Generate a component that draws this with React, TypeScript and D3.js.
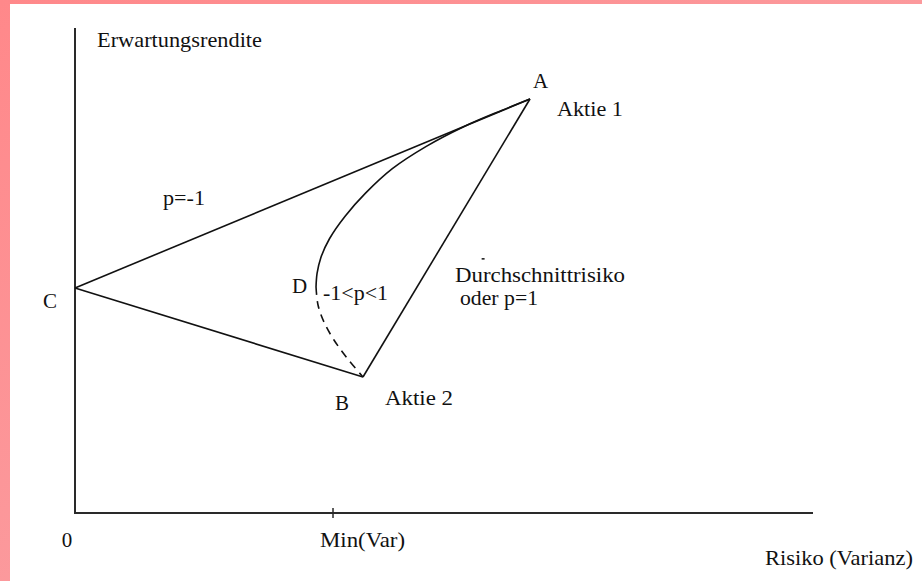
import React from "react";
import * as d3 from "d3";

const W = 922;
const H = 581;

// Abstract data units: risk (x) and expected return (y), both 0..100
const pointNames = ["A", "B", "C"];
const pointRisk = [61.65, 39.02, 0];
const pointReturn = [85.36, 28.04, 46.39];

// Efficient frontier curve (-1<p<1), solid part from A down to D
const curveSolidRisk = [61.65, 57.8, 52.6, 47.6, 43.0, 39.4, 36.6, 34.5, 33.3, 32.8, 32.66];
const curveSolidReturn = [85.36, 83.0, 79.6, 75.6, 71.0, 66.0, 61.2, 56.6, 52.6, 49.4, 46.6];
// dashed part from D down to B
const curveDashRisk = [32.66, 32.93, 33.74, 35.09, 36.86, 39.02];
const curveDashReturn = [46.6, 42.89, 39.38, 35.67, 31.96, 28.04];

const minVarRisk = 34.96;
const xTickLabels = ["0", "Min(Var)"];

const x = d3.scaleLinear().domain([0, 100]).range([75, 813]);
const y = d3.scaleLinear().domain([0, 100]).range([513, 28]);

const FONT = "Liberation Serif, DejaVu Serif, Times New Roman, serif";

export default function App() {
  const P = (name: string): [number, number] => {
    const i = pointNames.indexOf(name);
    return [x(pointRisk[i]), y(pointReturn[i])];
  };
  const A = P("A");
  const B = P("B");
  const C = P("C");

  const line = d3
    .line<[number, number]>()
    .x((d) => x(d[0]))
    .y((d) => y(d[1]))
    .curve(d3.curveCatmullRom.alpha(0.5));

  const solid = line(curveSolidRisk.map((r, i) => [r, curveSolidReturn[i]]));
  const dashed = line(curveDashRisk.map((r, i) => [r, curveDashReturn[i]]));

  const txt = {
    fontFamily: FONT,
    fontSize: 21,
    fill: "#111",
  } as const;

  return (
    <svg
      width={W}
      height={H}
      style={{ position: "absolute", left: 0, top: 0, display: "block" }}
    >
      <defs>
        <linearGradient id="bg" x1="0" y1="0" x2="1" y2="1">
          <stop offset="0" stopColor="#ff888a" />
          <stop offset="1" stopColor="#f8aaae" />
        </linearGradient>
      </defs>
      <rect x={0} y={0} width={W} height={H} fill="url(#bg)" />
      <rect x={10} y={4} width={W - 10} height={H - 4} fill="#ffffff" />

      {/* axes */}
      <line x1={x(0)} y1={y(100)} x2={x(0)} y2={y(0) + 1} stroke="#2a2a2a" strokeWidth={2} />
      <line x1={x(0)} y1={y(0)} x2={x(100)} y2={y(0)} stroke="#2a2a2a" strokeWidth={2} />
      <line x1={x(minVarRisk)} y1={y(0) - 5} x2={x(minVarRisk)} y2={y(0) + 5} stroke="#2a2a2a" strokeWidth={1.5} />

      {/* p=-1 lines */}
      <line x1={C[0]} y1={C[1]} x2={A[0]} y2={A[1]} stroke="#111" strokeWidth={1.6} />
      <line x1={C[0]} y1={C[1]} x2={B[0]} y2={B[1]} stroke="#111" strokeWidth={1.6} />
      {/* p=1 line */}
      <line x1={A[0]} y1={A[1]} x2={B[0]} y2={B[1]} stroke="#111" strokeWidth={1.6} />

      {/* -1<p<1 curve */}
      <path d={solid || ""} fill="none" stroke="#111" strokeWidth={1.6} />
      <path d={dashed || ""} fill="none" stroke="#111" strokeWidth={1.6} strokeDasharray="8 6" />

      {/* small mark */}
      <line x1={x(55.1)} y1={y(52.4)} x2={x(55.5)} y2={y(52.4)} stroke="#111" strokeWidth={1.5} />

      {/* labels */}
      <text {...txt} x={97} y={47} textLength={165} lengthAdjust="spacingAndGlyphs">Erwartungsrendite</text>
      <text {...txt} x={A[0] + 3} y={A[1] - 11}>A</text>
      <text {...txt} x={A[0] + 27} y={A[1] + 17} textLength={66} lengthAdjust="spacingAndGlyphs">Aktie 1</text>
      <text {...txt} x={C[0] - 32} y={C[1] + 20}>C</text>
      <text {...txt} x={B[0] - 28} y={B[1] + 33}>B</text>
      <text {...txt} x={B[0] + 22} y={B[1] + 28} textLength={68} lengthAdjust="spacingAndGlyphs">Aktie 2</text>
      <text {...txt} x={163} y={205} textLength={42} lengthAdjust="spacingAndGlyphs">p=-1</text>
      <text {...txt} x={292} y={293}>D</text>
      <text {...txt} x={323} y={300} textLength={65} lengthAdjust="spacingAndGlyphs">-1&lt;p&lt;1</text>
      <text {...txt} x={455} y={282} textLength={170} lengthAdjust="spacingAndGlyphs">Durchschnittrisiko</text>
      <text {...txt} x={460} y={305} textLength={78} lengthAdjust="spacingAndGlyphs">oder p=1</text>

      <text {...txt} x={x(0) - 8} y={547} textAnchor="middle">{xTickLabels[0]}</text>
      <text {...txt} x={320} y={547} textLength={85} lengthAdjust="spacingAndGlyphs">{xTickLabels[1]}</text>
      <text {...txt} x={765} y={565} textLength={148} lengthAdjust="spacingAndGlyphs">Risiko (Varianz)</text>
    </svg>
  );
}
